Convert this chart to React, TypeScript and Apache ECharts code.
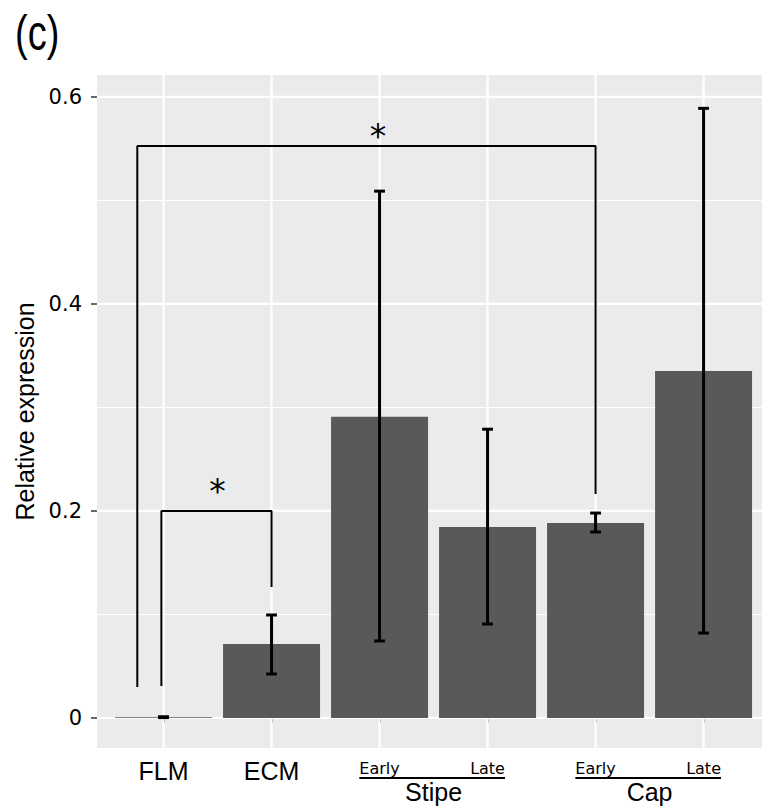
import React, { useEffect, useRef } from "react";
import * as echarts from "echarts";

const categories = ["FLM", "ECM", "Early", "Late", "Early", "Late"];
const positions = [1, 2, 3, 4, 5, 6];
const meanValues = [0.0008, 0.0715, 0.291, 0.1845, 0.1884, 0.3353];
const errorLow = [0.0004, 0.0425, 0.0744, 0.0908, 0.1797, 0.0821];
const errorHigh = [0.0012, 0.0995, 0.509, 0.279, 0.198, 0.589];
const groupNames = ["Stipe", "Cap"];
const groupFrom = [3, 5];
const groupTo = [4, 6];
const yTickValues = [0, 0.2, 0.4, 0.6];
const yMinorValues = [0.1, 0.3, 0.5];
const bracketSmall = [
  [0.98, 0.0309],
  [0.98, 0.2],
  [2, 0.2],
  [2, 0.1266],
];
const bracketLarge = [
  [0.757, 0.03],
  [0.757, 0.5527],
  [5, 0.5527],
  [5, 0.2164],
];
const starLabels = ["*", "*"];
const starX = [1.5, 2.985];
const starY = [0.225, 0.568];
const panelTitle = "(c)";

const X_MIN = 0.384;
const X_MAX = 6.541;
const Y_MIN = -0.029;
const Y_MAX = 0.6212;

export default function App() {
  const ref = useRef<HTMLDivElement>(null);
  useEffect(() => {
    document.body.style.margin = "0";
    const chart = echarts.init(ref.current!, null, { renderer: "svg" });
    const ctx = document.createElement("canvas").getContext("2d")!;
    const smallFont = '16px "DejaVu Sans"';
    const measure = (t: string, f: string) => {
      ctx.font = f;
      return ctx.measureText(t).width;
    };

    const option: any = {
      animation: false,
      backgroundColor: "#ffffff",
      graphic: [
        {
          type: "text",
          left: 15,
          top: 8,
          scaleX: 0.76,
          style: {
            text: panelTitle,
            fontFamily: '"Liberation Sans", Arial, sans-serif',
            fontSize: 50,
            fill: "#000",
          },
        },
      ],
      grid: {
        left: 97,
        right: 1,
        top: 75,
        bottom: 63,
        show: true,
        backgroundColor: "#EBEBEB",
        borderWidth: 0,
      },
      xAxis: {
        type: "value",
        min: X_MIN,
        max: X_MAX,
        axisLine: { show: false },
        splitLine: { show: false },
        axisTick: {
          show: true,
          customValues: positions,
          length: 5,
          lineStyle: { color: "#333", width: 1.5 },
        },
        axisLabel: {
          customValues: positions,
          margin: 10,
          formatter: (v: number) => {
            const i = Math.round(v) - 1;
            const t = categories[i] ?? "";
            return i < 2 ? `{big|${t}}` : `{small|${t}}`;
          },
          rich: {
            big: {
              fontFamily: '"Liberation Sans", Arial, sans-serif',
              fontSize: 25,
              lineHeight: 25,
              color: "#000",
            },
            small: {
              fontFamily: '"DejaVu Sans"',
              fontSize: 16,
              lineHeight: 20,
              color: "#000",
            },
          },
        },
      },
      yAxis: {
        type: "value",
        min: Y_MIN,
        max: Y_MAX,
        name: "Relative expression",
        nameLocation: "middle",
        nameGap: 59,
        nameTextStyle: {
          fontFamily: '"Liberation Sans", Arial, sans-serif',
          fontSize: 25,
          color: "#000",
        },
        axisLine: { show: false },
        splitLine: { show: false },
        axisTick: {
          show: true,
          customValues: yTickValues,
          length: 6,
          lineStyle: { color: "#333", width: 1.5 },
        },
        axisLabel: {
          customValues: yTickValues,
          margin: 15,
          fontFamily: '"DejaVu Sans"',
          fontSize: 21,
          color: "#000",
          formatter: (v: number) => (Math.abs(v) < 1e-9 ? "0" : v.toFixed(1)),
        },
      },
      series: [
        {
          type: "custom",
          name: "minorGrid",
          z: 1,
          silent: true,
          data: yMinorValues.map((v) => [v]),
          renderItem: (params: any, api: any) => {
            const cs = params.coordSys;
            const y = api.coord([X_MIN, api.value(0)])[1];
            return {
              type: "line",
              shape: { x1: cs.x, y1: y, x2: cs.x + cs.width, y2: y },
              style: { stroke: "#ffffff", lineWidth: 1.1 },
            };
          },
        },
        {
          type: "custom",
          name: "majorGridY",
          z: 1,
          silent: true,
          data: yTickValues.map((v) => [v]),
          renderItem: (params: any, api: any) => {
            const cs = params.coordSys;
            const y = api.coord([X_MIN, api.value(0)])[1];
            return {
              type: "line",
              shape: { x1: cs.x, y1: y, x2: cs.x + cs.width, y2: y },
              style: { stroke: "#ffffff", lineWidth: 2.2 },
            };
          },
        },
        {
          type: "custom",
          name: "majorGridX",
          z: 1,
          silent: true,
          data: positions.map((v) => [v]),
          renderItem: (params: any, api: any) => {
            const cs = params.coordSys;
            const x = api.coord([api.value(0), 0])[0];
            return {
              type: "line",
              shape: { x1: x, y1: cs.y, x2: x, y2: cs.y + cs.height },
              style: { stroke: "#ffffff", lineWidth: 2.2 },
            };
          },
        },
        {
          type: "bar",
          name: "mean",
          z: 2,
          barWidth: 97,
          itemStyle: { color: "#595959" },
          data: positions.map((x, i) => [x, meanValues[i]]),
        },
        {
          type: "custom",
          name: "error",
          z: 3,
          data: positions.map((x, i) => [x, errorLow[i], errorHigh[i]]),
          encode: { x: 0, y: [1, 2] },
          renderItem: (params: any, api: any) => {
            const x = api.value(0);
            const lo = api.coord([x, api.value(1)]);
            const hi = api.coord([x, api.value(2)]);
            const hw = api.size([0.1, 0])[0] / 2;
            const st = { stroke: "#000", lineWidth: 3 };
            return {
              type: "group",
              children: [
                { type: "line", shape: { x1: hi[0], y1: hi[1], x2: lo[0], y2: lo[1] }, style: st },
                { type: "line", shape: { x1: hi[0] - hw, y1: hi[1], x2: hi[0] + hw, y2: hi[1] }, style: st },
                { type: "line", shape: { x1: lo[0] - hw, y1: lo[1], x2: lo[0] + hw, y2: lo[1] }, style: st },
              ],
            };
          },
        },
        {
          type: "line",
          name: "bracket1",
          z: 4,
          symbol: "none",
          showSymbol: false,
          lineStyle: { color: "#000", width: 2 },
          data: bracketSmall,
        },
        {
          type: "line",
          name: "bracket2",
          z: 4,
          symbol: "none",
          showSymbol: false,
          lineStyle: { color: "#000", width: 2 },
          data: bracketLarge,
        },
        {
          type: "custom",
          name: "stars",
          z: 5,
          data: starX.map((x, i) => [x, starY[i]]),
          renderItem: (params: any, api: any) => {
            const p = api.coord([api.value(0), api.value(1)]);
            return {
              type: "text",
              x: p[0],
              y: p[1] + 6,
              style: {
                text: starLabels[params.dataIndex],
                fontFamily: '"DejaVu Sans"',
                fontSize: 33,
                fill: "#000",
                align: "center",
                verticalAlign: "middle",
              },
            };
          },
        },
        {
          type: "custom",
          name: "groups",
          z: 5,
          clip: false,
          data: groupNames.map((_, i) => [groupFrom[i], groupTo[i]]),
          renderItem: (params: any, api: any) => {
            const cs = params.coordSys;
            const bottom = cs.y + cs.height;
            const a = api.value(0);
            const b = api.value(1);
            const xa = api.coord([a, 0])[0];
            const xb = api.coord([b, 0])[0];
            const la = categories[a - 1];
            const lb = categories[b - 1];
            const left = xa - measure(la, smallFont) / 2;
            const right = xb + measure(lb, smallFont) / 2;
            return {
              type: "group",
              children: [
                {
                  type: "line",
                  shape: { x1: left, y1: bottom + 30, x2: right, y2: bottom + 30 },
                  style: { stroke: "#000", lineWidth: 2 },
                },
                {
                  type: "text",
                  x: (xa + xb) / 2,
                  y: bottom + 44,
                  style: {
                    text: groupNames[params.dataIndex],
                    fontFamily: '"Liberation Sans", Arial, sans-serif',
                    fontSize: 25,
                    fill: "#000",
                    align: "center",
                    verticalAlign: "middle",
                  },
                },
              ],
            };
          },
        },
      ],
    };
    chart.setOption(option);
    return () => chart.dispose();
  }, []);
  return <div ref={ref} style={{ width: 763, height: 811 }} />;
}
